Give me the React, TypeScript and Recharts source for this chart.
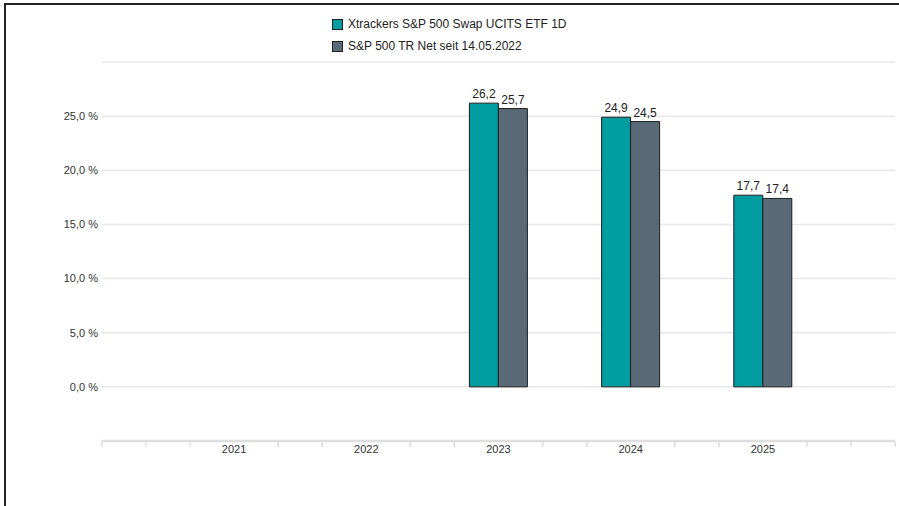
import React from 'react';
import { BarChart, Bar, XAxis, YAxis, CartesianGrid, LabelList } from 'recharts';

const years = ['2021', '2022', '2023', '2024', '2025'];
const etfValues: (number | null)[] = [null, null, 26.2, 24.9, 17.7];
const indexValues: (number | null)[] = [null, null, 25.7, 24.5, 17.4];
const yTicks = [-5, 0, 5, 10, 15, 20, 25, 30];
const labeledYTicks = [0, 5, 10, 15, 20, 25];
const seriesNames = ['Xtrackers S&P 500 Swap UCITS ETF 1D', 'S&P 500 TR Net seit 14.05.2022'];
const seriesColors = ['#009c9f', '#596a76'];

const data = years.map((y, i) => ({ year: y, etf: etfValues[i], idx: indexValues[i] }));

const fmt = (v: any) => (v == null ? '' : Number(v).toFixed(1).replace('.', ','));
const fmtY = (v: number) => (labeledYTicks.includes(v) ? v.toFixed(1).replace('.', ',') + ' %' : '');

const XTick = (props: any) => {
  const { x, y, payload, index } = props;
  const off = payload && payload.offset ? payload.offset : 66;
  const xs = [x - (off * 4) / 3, x - (off * 2) / 3, x + (off * 2) / 3, x + (off * 4) / 3];
  if (index === 0) xs.push(x - off * 2);
  if (index === years.length - 1) xs.push(x + off * 2);
  return (
    <g>
      {xs.map((lx, i) => (
        <line key={i} x1={lx} x2={lx} y1={y} y2={y + 6} stroke="#e0e0e0" strokeWidth={1.5} />
      ))}
      <text x={x} y={y + 12} textAnchor="middle" fontSize={11} fill="#333" fontFamily="Liberation Sans, Arial, sans-serif">
        {payload.value}
      </text>
    </g>
  );
};

const LegendBox = () => (
  <div style={{ position: 'absolute', left: 332, top: 13, fontFamily: 'Liberation Sans, Arial, sans-serif', fontSize: 12, color: '#222' }}>
    {seriesNames.map((n, i) => (
      <div key={n} style={{ display: 'flex', alignItems: 'center', height: 22 }}>
        <div style={{ width: 9, height: 9, background: seriesColors[i], border: '1px solid #222', marginRight: 5 }} />
        <span>{n}</span>
      </div>
    ))}
  </div>
);

export default function App() {
  return (
    <div style={{ position: 'absolute', left: 0, top: 0, width: 899, height: 506, background: '#fff', overflow: 'hidden' }}>
      <div style={{ position: 'absolute', left: 4, top: 3, width: 899, height: 510, borderTop: '2px solid #222', borderLeft: '2px solid #222' }} />
      <div style={{ position: 'absolute', left: 0, top: 0 }}>
        <BarChart
          width={899}
          height={506}
          data={data}
          margin={{ top: 62, right: 4, left: 0, bottom: 35 }}
          barGap={0}
          barSize={29}
        >
          <CartesianGrid vertical={false} stroke="#e8e8e8" strokeWidth={1.5} />
          <XAxis
            dataKey="year"
            padding={{ left: 66, right: 66 }}
            tickLine={false}
            axisLine={{ stroke: '#dedede', strokeWidth: 2.5 }}
            tick={<XTick />}
            tickSize={0}
            tickMargin={0}
            height={30}
            interval={0}
          />
          <YAxis
            domain={[-5, 30]}
            ticks={yTicks}
            tickFormatter={fmtY}
            width={102}
            axisLine={false}
            tickLine={false}
            tickSize={0}
            tickMargin={4}
            tick={{ fontSize: 11, fill: '#333', fontFamily: 'Liberation Sans, Arial, sans-serif' }}
            interval={0}
          />
          <Bar dataKey="etf" fill={seriesColors[0]} stroke="#1e1e1e" strokeWidth={1} isAnimationActive={false}>
            <LabelList dataKey="etf" position="top" formatter={fmt} fontSize={12} fill="#222" fontFamily="Liberation Sans, Arial, sans-serif" />
          </Bar>
          <Bar dataKey="idx" fill={seriesColors[1]} stroke="#1e1e1e" strokeWidth={1} isAnimationActive={false}>
            <LabelList dataKey="idx" position="top" formatter={fmt} fontSize={12} fill="#222" fontFamily="Liberation Sans, Arial, sans-serif" />
          </Bar>
        </BarChart>
      </div>
      <LegendBox />
    </div>
  );
}
